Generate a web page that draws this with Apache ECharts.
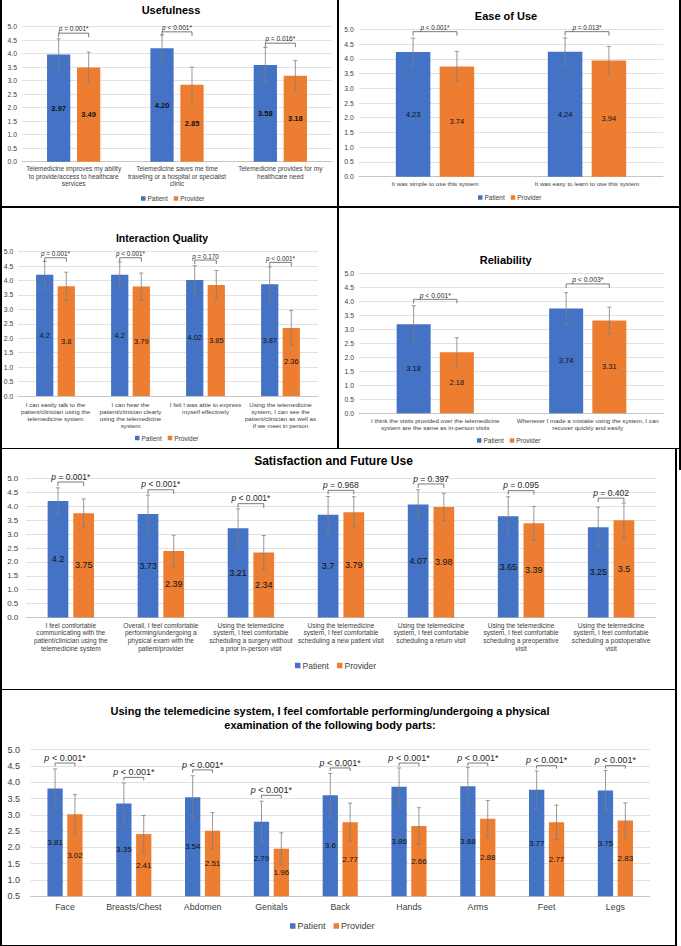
<!DOCTYPE html>
<html><head><meta charset="utf-8">
<script src="https://cdn.jsdelivr.net/npm/echarts/dist/echarts.min.js"></script>
<style>
html,body{margin:0;padding:0;background:#fff;}
#wrap{position:relative;width:681px;height:946px;overflow:hidden;background:#fff;}
.chart{position:absolute;}
.ln{position:absolute;background:#000;z-index:5;}
</style></head><body>
<div id="wrap">
  <div class="chart" id="c1" style="left:0;top:0;width:338px;height:206px"></div>
  <div class="chart" id="c2" style="left:338px;top:0;width:342px;height:206px"></div>
  <div class="chart" id="c3" style="left:0;top:206px;width:338px;height:242px"></div>
  <div class="chart" id="c4" style="left:338px;top:206px;width:342px;height:242px"></div>
  <div class="chart" id="c5" style="left:0;top:448px;width:676px;height:241px"></div>
  <div class="chart" id="c6" style="left:0;top:689px;width:676px;height:257px"></div>
  <div class="ln" style="left:0;top:0;width:2px;height:946px"></div>
  <div class="ln" style="left:679px;top:0;width:2px;height:470px"></div>
  <div class="ln" style="left:337px;top:0;width:1.5px;height:448px"></div>
  <div class="ln" style="left:0;top:206px;width:681px;height:1.5px"></div>
  <div class="ln" style="left:0;top:447.5px;width:681px;height:1.5px"></div>
  <div class="ln" style="left:675px;top:448px;width:2px;height:498px"></div>
  <div class="ln" style="left:0;top:688.5px;width:677px;height:1.5px"></div>
  <div class="ln" style="left:0;top:944.5px;width:677px;height:2px"></div>
</div>
<script>
// ---------- DATA ----------
const seriesNames = ['Patient', 'Provider'];

// Usefulness
const usefulCats = [
  'Telemedicine improves my ability\nto provide/access to healthcare\nservices',
  'Telemedicine saves me time\ntraveling or a hospital or specialist\nclinic',
  'Telemedicine provides for my\nhealthcare need'
];
const usefulPatient = [3.97, 4.20, 3.58];
const usefulProvider = [3.49, 2.85, 3.18];
const usefulPatientSD = [0.58, 0.50, 0.65];
const usefulProviderSD = [0.57, 0.65, 0.57];
const usefulP = ['= 0.001*', '< 0.001*', '= 0.016*'];
const usefulBracket = [4.76, 4.81, 4.39];

// Ease of Use
const easeCats = ['It was simple to use this system', 'It was easy to learn to use this system'];
const easePatient = [4.23, 4.24];
const easeProvider = [3.74, 3.94];
const easePatientSD = [0.47, 0.47];
const easeProviderSD = [0.51, 0.48];
const easeP = ['< 0.001*', '= 0.013*'];
const easeBracket = [4.92, 4.92];

// Interaction Quality
const interCats = [
  'I can easily talk to the\npatient/clinician using the\ntelemedicine system',
  'I can hear the\npatient/clinician clearly\nusing the telemedicine\nsystem',
  'I felt I was able to express\nmyself effectively',
  'Using the telemedicine\nsystem, I can see the\npatient/clinician as well as\nif we meet in person'
];
const interPatient = [4.2, 4.2, 4.02, 3.87];
const interProvider = [3.8, 3.79, 3.85, 2.36];
const interPatientSD = [0.47, 0.44, 0.50, 0.60];
const interProviderSD = [0.49, 0.47, 0.50, 0.60];
const interP = ['= 0.001*', '< 0.001*', '= 0.170', '< 0.001*'];
const interBracket = [4.79, 4.79, 4.71, 4.63];

// Reliability
const reliCats = [
  'I think the visits provided over the telemedicine\nsystem are the same as in-person visits',
  'Whenever I made a mistake using the system, I can\nrecover quickly and easily'
];
const reliPatient = [3.18, 3.74];
const reliProvider = [2.18, 3.31];
const reliPatientSD = [0.66, 0.57];
const reliProviderSD = [0.52, 0.48];
const reliP = ['< 0.001*', '< 0.003*'];
const reliBracket = [4.07, 4.62];

// Satisfaction and Future Use
const satCats = [
  'I feel comfortable\ncommunicating with the\npatient/clinician using the\ntelemedicine system',
  'Overall, I feel comfortable\nperforming/undergoing a\nphysical exam with the\npatient/provider',
  'Using the telemedicine\nsystem, I feel comfortable\nscheduling a surgery without\na prior in-person visit',
  'Using the telemedicine\nsystem, I feel comfortable\nscheduling a new patient visit',
  'Using the telemedicine\nsystem, I feel comfortable\nscheduling a return visit',
  'Using the telemedicine\nsystem, I feel comfortable\nscheduling a preoperative\nvisit',
  'Using the telemedicine\nsystem, I feel comfortable\nscheduling a postoperative\nvisit'
];
const satPatient = [4.2, 3.73, 3.21, 3.7, 4.07, 3.65, 3.25];
const satProvider = [3.75, 2.39, 2.34, 3.79, 3.98, 3.39, 3.5];
const satPatientSD = [0.47, 0.68, 0.70, 0.66, 0.53, 0.70, 0.72];
const satProviderSD = [0.52, 0.57, 0.61, 0.56, 0.50, 0.61, 0.62];
const satP = ['= 0.001*', '< 0.001*', '< 0.001*', '= 0.968', '= 0.397', '= 0.095', '= 0.402'];
const satBracket = [4.88, 4.60, 4.10, 4.58, 4.81, 4.57, 4.30];

// Body parts
const bodyCats = ['Face', 'Breasts/Chest', 'Abdomen', 'Genitals', 'Back', 'Hands', 'Arms', 'Feet', 'Legs'];
const bodyPatient = [3.81, 3.35, 3.54, 2.79, 3.6, 3.86, 3.88, 3.77, 3.75];
const bodyProvider = [3.02, 2.41, 2.51, 1.96, 2.77, 2.66, 2.88, 2.77, 2.83];
const bodyPatientSD = [0.60, 0.63, 0.66, 0.63, 0.67, 0.58, 0.57, 0.58, 0.61];
const bodyProviderSD = [0.60, 0.57, 0.56, 0.49, 0.59, 0.56, 0.56, 0.53, 0.54];
const bodyP = ['< 0.001*', '< 0.001*', '< 0.001*', '< 0.001*', '< 0.001*', '< 0.001*', '< 0.001*', '< 0.001*', '< 0.001*'];
const bodyBracket = [4.59, 4.15, 4.38, 3.60, 4.44, 4.59, 4.59, 4.51, 4.51];

// ---------- STYLE / LAYOUT ----------
const FONT = '"Liberation Sans", Arial, Helvetica, sans-serif';
const BLUE = '#4472C4';
const ORANGE = '#ED7D31';

function errRenderer(sign, bw, bg, cap) {
  return function (params, api) {
    const band = api.size([1, 0])[0];
    const dx = sign * band * bw * (1 + bg) / 2;
    const top = api.coord([api.value(0), api.value(2)]);
    const bot = api.coord([api.value(0), api.value(1)]);
    const x = top[0] + dx;
    const st = { stroke: '#7f7f7f', lineWidth: 0.8, fill: 'none' };
    return { type: 'group', children: [
      { type: 'line', shape: { x1: x, y1: top[1], x2: x, y2: bot[1] }, style: st },
      { type: 'line', shape: { x1: x - cap, y1: top[1], x2: x + cap, y2: top[1] }, style: st },
      { type: 'line', shape: { x1: x - cap, y1: bot[1], x2: x + cap, y2: bot[1] }, style: st }
    ]};
  };
}

function bracketRenderer(bw, bg, tick, pTexts, fs) {
  return function (params, api) {
    const band = api.size([1, 0])[0];
    const dx = band * bw * (1 + bg) / 2;
    const c = api.coord([api.value(0), api.value(1)]);
    const x1 = c[0] - dx, x2 = c[0] + dx, y = c[1];
    const st = { stroke: '#595959', lineWidth: 0.8, fill: 'none' };
    return { type: 'group', children: [
      { type: 'polyline', shape: { points: [[x1, y + tick], [x1, y], [x2, y], [x2, y + tick]] }, style: st },
      { type: 'text', x: c[0], y: y - 0.8, style: {
        text: '{i|p} ' + pTexts[params.dataIndex],
        fontFamily: FONT, fontSize: fs, fill: '#262626',
        align: 'center', verticalAlign: 'bottom',
        rich: { i: { fontStyle: 'italic', fontFamily: FONT, fontSize: fs, fill: '#262626' } }
      } }
    ]};
  };
}

function buildOption(cfg, d) {
  const errData = (vals, sd) => vals.map((v, i) => [i, +(v - sd[i]).toFixed(3), +(v + sd[i]).toFixed(3)]);
  const barLabel = {
    show: true, position: 'inside', fontFamily: FONT, fontSize: cfg.valSize,
    fontWeight: cfg.valBold ? 'bold' : 'normal', color: '#111',
    formatter: p => cfg.fixed ? p.value.toFixed(2) : String(p.value)
  };
  return {
    animation: false,
    title: {
      text: cfg.title, left: cfg.titleX, top: cfg.titleTop, textAlign: 'center', textVerticalAlign: 'top', padding: 0,
      textStyle: { fontFamily: FONT, fontSize: cfg.titleSize, fontWeight: 'bold', color: '#000', lineHeight: cfg.titleLH || cfg.titleSize * 1.2 }
    },
    legend: {
      data: seriesNames, left: cfg.legX, top: cfg.legTop, padding: 0, icon: 'rect',
      itemWidth: cfg.legIcon, itemHeight: cfg.legIcon, itemGap: cfg.legGap, selectedMode: false,
      textStyle: { fontFamily: FONT, fontSize: cfg.legSize, color: '#404040', padding: [0, 0, 0, -3] }
    },
    grid: Object.assign({ outerBoundsMode: 'none', containLabel: false }, cfg.grid),
    xAxis: {
      type: 'category', data: d.cats,
      axisTick: { show: false },
      axisLine: { lineStyle: { color: '#bfbfbf', width: 0.8 } },
      axisLabel: { interval: 0, fontFamily: FONT, fontSize: cfg.xSize, lineHeight: cfg.xLH, color: '#404040', margin: cfg.xMargin }
    },
    yAxis: {
      type: 'value', min: cfg.yMin, max: 5, interval: 0.5,
      axisLine: { show: false }, axisTick: { show: false },
      splitLine: { lineStyle: { color: '#d9d9d9', width: 0.8 } },
      axisLabel: { formatter: v => v.toFixed(1), fontFamily: FONT, fontSize: cfg.ySize, color: '#404040', margin: cfg.yMargin }
    },
    series: [
      { name: 'Patient', type: 'bar', data: d.patient, barWidth: (cfg.bw * 100) + '%', barGap: (cfg.bg * 100) + '%',
        itemStyle: { color: BLUE }, label: barLabel, clip: true },
      { name: 'Provider', type: 'bar', data: d.provider, barWidth: (cfg.bw * 100) + '%', barGap: (cfg.bg * 100) + '%',
        itemStyle: { color: ORANGE }, label: barLabel, clip: true },
      { name: 'errPatient', type: 'custom', renderItem: errRenderer(-1, cfg.bw, cfg.bg, cfg.cap),
        data: errData(d.patient, d.patientSD), encode: { x: 0, y: [1, 2] }, z: 3 },
      { name: 'errProvider', type: 'custom', renderItem: errRenderer(1, cfg.bw, cfg.bg, cfg.cap),
        data: errData(d.provider, d.providerSD), encode: { x: 0, y: [1, 2] }, z: 3 },
      { name: 'pvalues', type: 'custom', renderItem: bracketRenderer(cfg.bw, cfg.bg, cfg.tick, d.p, cfg.pSize),
        data: d.bracket.map((v, i) => [i, v]), encode: { x: 0, y: 1 }, z: 4 }
    ]
  };
}

const panels = [
  { el: 'c1', cfg: { title: 'Usefulness', titleX: 171, titleTop: 3.5, titleSize: 11,
      legX: 141, legTop: 195, legIcon: 4.5, legGap: 6, legSize: 6.5,
      grid: { left: 22, top: 26.7, width: 310, height: 135 },
      xSize: 6.5, xLH: 7.5, xMargin: 3.5, ySize: 6.8, yMargin: 5, yMin: 0,
      bw: 0.225, bg: 0.29, cap: 2, tick: 4, valSize: 7.5, valBold: true, fixed: true, pSize: 6.5 },
    d: { cats: usefulCats, patient: usefulPatient, provider: usefulProvider, patientSD: usefulPatientSD,
      providerSD: usefulProviderSD, p: usefulP, bracket: usefulBracket } },
  { el: 'c2', cfg: { title: 'Ease of Use', titleX: 168, titleTop: 9.5, titleSize: 11,
      legX: 140, legTop: 194, legIcon: 4.5, legGap: 6, legSize: 6.5,
      grid: { left: 21, top: 29.3, width: 304, height: 147.4 },
      xSize: 6.2, xLH: 7.5, xMargin: 3.5, ySize: 6.8, yMargin: 5.3, yMin: 0,
      bw: 0.227, bg: 0.27, cap: 2, tick: 4, valSize: 7.5, valBold: false, fixed: false, pSize: 6.3 },
    d: { cats: easeCats, patient: easePatient, provider: easeProvider, patientSD: easePatientSD,
      providerSD: easeProviderSD, p: easeP, bracket: easeBracket } },
  { el: 'c3', cfg: { title: 'Interaction Quality', titleX: 162, titleTop: 26, titleSize: 10.5,
      legX: 135, legTop: 228.5, legIcon: 4.5, legGap: 6, legSize: 6.5,
      grid: { left: 18, top: 45.7, width: 300, height: 144.3 },
      xSize: 6.2, xLH: 7, xMargin: 4.5, ySize: 6.8, yMargin: 4.7, yMin: 0,
      bw: 0.23, bg: 0.25, cap: 2, tick: 4, valSize: 7.5, valBold: false, fixed: false, pSize: 6.3 },
    d: { cats: interCats, patient: interPatient, provider: interProvider, patientSD: interPatientSD,
      providerSD: interProviderSD, p: interP, bracket: interBracket } },
  { el: 'c4', cfg: { title: 'Reliability', titleX: 167.7, titleTop: 47.5, titleSize: 11,
      legX: 139, legTop: 231, legIcon: 4.5, legGap: 6, legSize: 6.5,
      grid: { left: 21, top: 67.3, width: 305, height: 140 },
      xSize: 6.2, xLH: 7, xMargin: 4, ySize: 6.8, yMargin: 5, yMin: 0,
      bw: 0.223, bg: 0.27, cap: 2, tick: 4, valSize: 7.5, valBold: false, fixed: false, pSize: 6.8 },
    d: { cats: reliCats, patient: reliPatient, provider: reliProvider, patientSD: reliPatientSD,
      providerSD: reliProviderSD, p: reliP, bracket: reliBracket } },
  { el: 'c5', cfg: { title: 'Satisfaction and Future Use', titleX: 333.5, titleTop: 6, titleSize: 12,
      legX: 295, legTop: 213, legIcon: 5.5, legGap: 8, legSize: 8.5,
      grid: { left: 25.8, top: 30.7, width: 630.3, height: 138.7 },
      xSize: 6.6, xLH: 7.7, xMargin: 4, ySize: 8, yMargin: 7.5, yMin: 0,
      bw: 0.23, bg: 0.24, cap: 2, tick: 4, valSize: 9, valBold: false, fixed: false, pSize: 8.5 },
    d: { cats: satCats, patient: satPatient, provider: satProvider, patientSD: satPatientSD,
      providerSD: satProviderSD, p: satP, bracket: satBracket } },
  { el: 'c6', cfg: { title: 'Using the telemedicine system, I feel comfortable performing/undergoing a physical\nexamination of the following body parts:',
      titleX: 330, titleTop: 15.3, titleSize: 11, titleLH: 14,
      legX: 290, legTop: 232.5, legIcon: 5.5, legGap: 8, legSize: 9,
      grid: { left: 30.6, top: 60.7, width: 619.2, height: 146.6 },
      xSize: 8.8, xLH: 10, xMargin: 5.5, ySize: 9, yMargin: 10.5, yMin: 0.5,
      bw: 0.222, bg: 0.30, cap: 2, tick: 3, valSize: 8, valBold: false, fixed: false, pSize: 9 },
    d: { cats: bodyCats, patient: bodyPatient, provider: bodyProvider, patientSD: bodyPatientSD,
      providerSD: bodyProviderSD, p: bodyP, bracket: bodyBracket } }
];

panels.forEach(pn => {
  const chart = echarts.init(document.getElementById(pn.el), null, { renderer: 'svg' });
  chart.setOption(buildOption(pn.cfg, pn.d));
});
</script>
</body></html>
